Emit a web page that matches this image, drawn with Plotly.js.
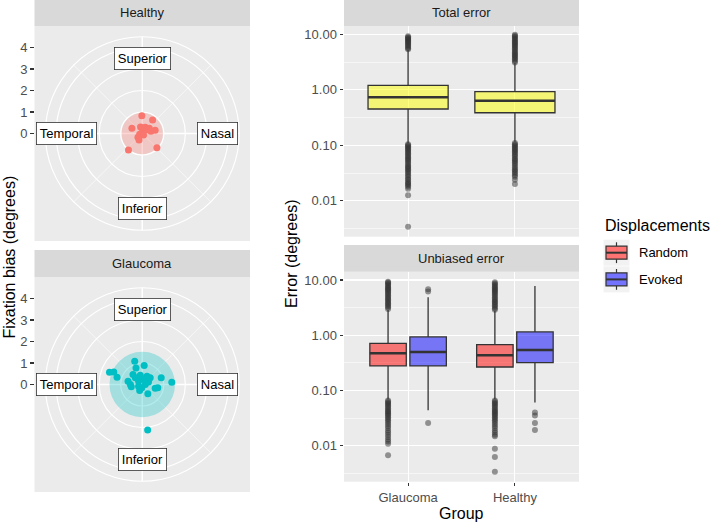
<!DOCTYPE html>
<html><head><meta charset="utf-8">
<script src="https://cdn.plot.ly/plotly-3.0.1.min.js"></script>
<style>html,body{margin:0;padding:0;background:#fff}#chart{width:720px;height:522px}</style>
</head><body><div id="chart"></div>
<script>
// ---------------- data ----------------
const groups = ['Glaucoma', 'Healthy'];

// Fixation bias (degrees): horizontal (Nasal +) and vertical (Superior +)
const healthyBiasX = [-0.02, 0.48, -0.48, -0.08, 0.14, 0.33, 0.60, 0.02, -0.12, -0.20, 0.06, 0.22, 0.40, -0.15, -0.64, 0.68];
const healthyBiasY = [0.83, 0.63, 0.24, 0.30, 0.29, 0.24, 0.15, 0.12, -0.04, -0.18, -0.07, 0.18, 0.10, -0.30, -0.77, -0.66];
const glaucomaBiasX = [-0.35, 0.09, -0.29, -1.52, -1.32, -1.17, -0.43, -0.09, 0.22, 0.37, 0.88, -0.66, -0.55, -0.17, 0.06, 0.29, -0.17, 0.14, -0.51, -0.12, 0.26, 0.60, 0.72, 1.37, 0.25, -0.02, -0.32];
const glaucomaBiasY = [1.08, 0.88, 0.77, 0.57, 0.58, 0.34, 0.46, 0.43, 0.38, 0.31, 0.31, 0.15, 0.00, 0.15, 0.23, 0.12, -0.08, 0.00, -0.11, -0.28, -0.43, -0.18, -0.15, 0.11, -2.12, -0.15, 0.31];
const healthyBiasRadius = 0.96;
const glaucomaBiasRadius = 1.52;

const directionLabels = ['Superior', 'Nasal', 'Inferior', 'Temporal'];
const directionAngles = [90, 0, 270, 180];
const directionRadius = 3.5;
const radialTicks = [0, 1, 2, 3, 4];

// Total error (degrees) box statistics, per group
const totalQ1 = [0.451, 0.386];
const totalMedian = [0.733, 0.637];
const totalQ3 = [1.20, 0.925];
const totalLower = [0.109, 0.116];
const totalUpper = [5.2, 3.0];
const totalOutGlaucoma = [5.4, 5.6, 5.9, 6.2, 6.5, 6.8, 7.1, 7.4, 7.7, 8.0, 8.3, 8.6, 8.9, 9.2,
  0.105, 0.100, 0.096, 0.092, 0.088, 0.084, 0.080, 0.076, 0.072, 0.068, 0.064, 0.061, 0.058, 0.055, 0.052, 0.049, 0.046, 0.043, 0.041, 0.039, 0.037, 0.035, 0.033, 0.031, 0.029, 0.027, 0.025, 0.024, 0.022, 0.021, 0.020, 0.019, 0.018, 0.0165, 0.0126, 0.0034];
const totalOutHealthy = [3.1, 3.3, 3.5, 3.7, 3.9, 4.1, 4.3, 4.5, 4.75, 5.0, 5.3, 5.6, 5.9, 6.2, 6.5, 6.8, 7.1, 7.4, 7.8, 8.2, 8.6, 9.0, 9.4, 9.8,
  0.110, 0.105, 0.100, 0.095, 0.090, 0.086, 0.082, 0.078, 0.074, 0.070, 0.066, 0.062, 0.058, 0.055, 0.052, 0.049, 0.046, 0.043, 0.040, 0.037, 0.035, 0.033, 0.031, 0.029, 0.027, 0.024, 0.020];

// Unbiased error (degrees), Random displacements
const randomQ1 = [0.279, 0.267];
const randomMedian = [0.473, 0.435];
const randomQ3 = [0.716, 0.678];
const randomLower = [0.0697, 0.0697];
const randomUpper = [2.87, 2.79];
const randomOutGlaucoma = [3.0, 3.2, 3.4, 3.6, 3.8, 4.0, 4.25, 4.5, 4.75, 5.0, 5.3, 5.6, 5.9, 6.2, 6.5, 6.8, 7.1, 7.4, 7.8, 8.2, 8.6, 9.0, 9.3,
  0.066, 0.063, 0.060, 0.057, 0.054, 0.051, 0.048, 0.045, 0.043, 0.041, 0.039, 0.037, 0.035, 0.033, 0.031, 0.029, 0.027, 0.025, 0.023, 0.021, 0.019, 0.0175, 0.016, 0.0145, 0.013, 0.012, 0.011, 0.0068];
const randomOutHealthy = [2.9, 3.1, 3.3, 3.5, 3.7, 3.9, 4.1, 4.35, 4.6, 4.9, 5.2, 5.5, 5.8, 6.1, 6.4, 6.7, 7.0, 7.4, 7.8, 8.2, 8.6, 9.1,
  0.066, 0.063, 0.060, 0.057, 0.054, 0.051, 0.048, 0.045, 0.043, 0.041, 0.039, 0.037, 0.035, 0.033, 0.031, 0.029, 0.027, 0.025, 0.023, 0.021, 0.019, 0.0175, 0.016, 0.015, 0.0089, 0.0063, 0.0034];

// Unbiased error (degrees), Evoked displacements
const evokedQ1 = [0.279, 0.32];
const evokedMedian = [0.50, 0.543];
const evokedQ3 = [0.933, 1.15];
const evokedLower = [0.044, 0.0607];
const evokedUpper = [4.86, 7.76];
const evokedOutGlaucoma = [6.8, 6.2, 0.026];
const evokedOutHealthy = [0.040, 0.0353, 0.026, 0.0195];

const yTickVals = [0.01, 0.1, 1, 10];
const yTickText = ['0.01', '0.10', '1.00', '10.00'];

// ---------------- styling ----------------
const FONT = 'Liberation Sans, Arial, Helvetica, sans-serif';
const PANEL = '#EBEBEB', STRIP = '#D9D9D9';
const fillTotal = 'rgba(255,255,0,0.5)';
const fillRandom = 'rgba(255,0,0,0.5)';
const fillEvoked = 'rgba(0,0,255,0.5)';
const healthyColor = '#F8766D', glaucomaColor = '#00BFC4';

const traces = [];

function statsBox(xa, ya, q1, med, q3, lo, hi, fill, extra) {
  return Object.assign({
    type: 'box', xaxis: xa, yaxis: ya, x: groups,
    q1: q1, median: med, q3: q3, lowerfence: lo, upperfence: hi,
    fillcolor: fill, line: {color: '#333333', width: 1.3}, whiskerwidth: 0,
    boxpoints: false, showlegend: false, hoverinfo: 'skip'
  }, extra);
}
function medianBox(xa, ya, med, extra) {
  return Object.assign({
    type: 'box', xaxis: xa, yaxis: ya, x: groups,
    q1: med, median: med, q3: med, lowerfence: med, upperfence: med,
    fillcolor: 'rgba(0,0,0,0)', line: {color: '#333333', width: 2.6}, whiskerwidth: 0,
    boxpoints: false, showlegend: false, hoverinfo: 'skip'
  }, extra);
}
function outlierBox(xa, ya, outG, outH, extra) {
  return Object.assign({
    type: 'box', xaxis: xa, yaxis: ya,
    x: outG.map(() => groups[0]).concat(outH.map(() => groups[1])),
    y: outG.concat(outH),
    boxpoints: 'all', jitter: 0, pointpos: 0,
    fillcolor: 'rgba(0,0,0,0)', line: {color: 'rgba(0,0,0,0)', width: 0}, whiskerwidth: 0,
    marker: {color: 'rgba(51,51,51,0.5)', size: 6, line: {width: 0}},
    showlegend: false, hoverinfo: 'skip'
  }, extra);
}

// Total error (top right)
traces.push(statsBox('x', 'y', totalQ1, totalMedian, totalQ3, totalLower, totalUpper, fillTotal, {width: 0.75}));
traces.push(medianBox('x', 'y', totalMedian, {width: 0.75}));
traces.push(outlierBox('x', 'y', totalOutGlaucoma, totalOutHealthy, {width: 0.75}));

// Unbiased error (bottom right)
const gR = {alignmentgroup: 'unb', offsetgroup: 'Random'};
const gE = {alignmentgroup: 'unb', offsetgroup: 'Evoked'};
traces.push(statsBox('x2', 'y2', randomQ1, randomMedian, randomQ3, randomLower, randomUpper, fillRandom, gR));
traces.push(statsBox('x2', 'y2', evokedQ1, evokedMedian, evokedQ3, evokedLower, evokedUpper, fillEvoked, gE));
traces.push(medianBox('x2', 'y2', randomMedian, gR));
traces.push(medianBox('x2', 'y2', evokedMedian, gE));
traces.push(outlierBox('x2', 'y2', randomOutGlaucoma, randomOutHealthy, gR));
traces.push(outlierBox('x2', 'y2', evokedOutGlaucoma, evokedOutHealthy, gE));

// Fixation bias points (left)
traces.push({type: 'scatter', mode: 'markers', xaxis: 'x3', yaxis: 'y3', x: healthyBiasX, y: healthyBiasY,
  marker: {color: healthyColor, size: 7}, showlegend: false, hoverinfo: 'skip'});
traces.push({type: 'scatter', mode: 'markers', xaxis: 'x4', yaxis: 'y4', x: glaucomaBiasX, y: glaucomaBiasY,
  marker: {color: glaucomaColor, size: 7}, showlegend: false, hoverinfo: 'skip'});

// ---------------- layout ----------------
const W = 720, H = 522;
const px = v => v / W, py = v => 1 - v / H;

const leftX = [px(34.5), px(250)];
const healthyY = [py(241), py(26)];
const glaucomaY = [py(492), py(277)];
const rightX = [px(344), px(579)];
const topY = [py(236.7), py(26)];
const botY = [py(481.7), py(271.7)];

const shapes = [];
const annotations = [];

// strips
function strip(x0, x1, yTop, yBot, label) {
  shapes.push({type: 'rect', xref: 'paper', yref: 'paper', x0: px(x0), x1: px(x1), y0: py(yBot), y1: py(yTop),
    fillcolor: STRIP, line: {width: 0}, layer: 'above'});
  annotations.push({xref: 'paper', yref: 'paper', x: px((x0 + x1) / 2), y: py((yTop + yBot) / 2),
    text: label, showarrow: false, xanchor: 'center', yanchor: 'middle',
    font: {family: FONT, size: 13, color: '#1A1A1A'}});
}
strip(34.5, 250, 0, 26, 'Healthy');
strip(34.5, 250, 250, 277, 'Glaucoma');
strip(344, 579, 0, 26, 'Total error');
strip(344, 579, 245, 271.7, 'Unbiased error');

// polar grid for the two left panels
function polarPanel(xa, ya, diskR, diskColor) {
  const outer = 4.5;
  [1, 2, 3, 4, outer].forEach(r => shapes.push({type: 'circle', xref: xa, yref: ya, x0: -r, x1: r, y0: -r, y1: r,
    line: {color: 'white', width: 1.2}, layer: 'below'}));
  [45, 135, 225, 315].forEach(a => shapes.push({type: 'line', xref: xa, yref: ya, x0: 0, y0: 0,
    x1: outer * Math.cos(a * Math.PI / 180), y1: outer * Math.sin(a * Math.PI / 180),
    line: {color: 'white', width: 0.6}, layer: 'below'}));
  [0, 90, 180, 270].forEach(a => shapes.push({type: 'line', xref: xa, yref: ya, x0: 0, y0: 0,
    x1: outer * Math.cos(a * Math.PI / 180), y1: outer * Math.sin(a * Math.PI / 180),
    line: {color: 'white', width: 1.5}, layer: 'below'}));
  shapes.push({type: 'circle', xref: xa, yref: ya, x0: -diskR, x1: diskR, y0: -diskR, y1: diskR,
    fillcolor: diskColor, line: {width: 0}, layer: 'below'});
  directionLabels.forEach((t, i) => {
    const a = directionAngles[i] * Math.PI / 180;
    annotations.push({xref: xa, yref: ya, x: directionRadius * Math.cos(a), y: directionRadius * Math.sin(a),
      text: t, showarrow: false, xanchor: 'center', yanchor: 'middle',
      bgcolor: 'white', bordercolor: '#333333', borderwidth: 0.8, borderpad: 3,
      font: {family: FONT, size: 13, color: '#000'}});
  });
}
polarPanel('x3', 'y3', healthyBiasRadius, 'rgba(248,118,109,0.3)');
polarPanel('x4', 'y4', glaucomaBiasRadius, 'rgba(0,191,196,0.3)');

// titles
annotations.push({xref: 'paper', yref: 'paper', x: px(461.5), y: py(513), text: 'Group', showarrow: false,
  xanchor: 'center', yanchor: 'middle', font: {family: FONT, size: 16, color: '#000'}});
annotations.push({xref: 'paper', yref: 'paper', x: px(291), y: py(254), text: 'Error (degrees)', showarrow: false,
  textangle: -90, xanchor: 'center', yanchor: 'middle', font: {family: FONT, size: 16, color: '#000'}});
annotations.push({xref: 'paper', yref: 'paper', x: px(9), y: py(257.5), text: 'Fixation bias (degrees)', showarrow: false,
  textangle: -90, xanchor: 'center', yanchor: 'middle', font: {family: FONT, size: 16, color: '#000'}});

// manual legend
annotations.push({xref: 'paper', yref: 'paper', x: px(603), y: py(225), text: 'Displacements', showarrow: false,
  xanchor: 'left', yanchor: 'middle', font: {family: FONT, size: 16, color: '#000'}});
[['Random', fillRandom, 252.7], ['Evoked', fillEvoked, 279.4]].forEach(([lab, fill, cy]) => {
  const cx = 616.5;
  shapes.push({type: 'rect', xref: 'paper', yref: 'paper', x0: px(603.5), x1: px(629.5), y0: py(cy + 13), y1: py(cy - 13),
    fillcolor: '#F2F2F2', line: {width: 0}});
  shapes.push({type: 'line', xref: 'paper', yref: 'paper', x0: px(cx), x1: px(cx), y0: py(cy + 10.4), y1: py(cy - 10.4),
    line: {color: '#333333', width: 1.2}});
  shapes.push({type: 'rect', xref: 'paper', yref: 'paper', x0: px(606), x1: px(627), y0: py(cy + 6.5), y1: py(cy - 6.5),
    fillcolor: 'white', line: {width: 0}});
  shapes.push({type: 'rect', xref: 'paper', yref: 'paper', x0: px(606), x1: px(627), y0: py(cy + 6.5), y1: py(cy - 6.5),
    fillcolor: fill.replace('0.5)', '0.55)'), line: {color: '#333333', width: 1.2}});
  shapes.push({type: 'line', xref: 'paper', yref: 'paper', x0: px(606), x1: px(627), y0: py(cy), y1: py(cy),
    line: {color: '#333333', width: 2}});
  annotations.push({xref: 'paper', yref: 'paper', x: px(637), y: py(cy), text: lab, showarrow: false,
    xanchor: 'left', yanchor: 'middle', font: {family: FONT, size: 13, color: '#000'}});
});

const tickFont = {family: FONT, size: 13, color: '#4D4D4D'};
const minorVals = [Math.pow(10, -2.5), Math.pow(10, -1.5), Math.pow(10, -0.5), Math.pow(10, 0.5)];
function logAxis(domain, anchor) {
  return {domain: domain, anchor: anchor, type: 'log', range: [-2.647, 1.15],
    tickmode: 'array', tickvals: yTickVals, ticktext: yTickText,
    ticks: 'outside', ticklen: 3.5, tickwidth: 1.1, tickcolor: '#333333', tickfont: tickFont,
    showgrid: true, gridcolor: 'white', gridwidth: 1.1, zeroline: false, showline: false,
    minor: {tickmode: 'array', tickvals: minorVals, showgrid: true, gridcolor: 'white', gridwidth: 0.55, ticks: ''}};
}
function catAxis(domain, anchor, showLabels) {
  return {domain: domain, anchor: anchor, type: 'category', categoryorder: 'array', categoryarray: groups,
    range: [-0.6, 1.6], showticklabels: showLabels, ticks: showLabels ? 'outside' : '',
    ticklen: 3.5, tickwidth: 1.1, tickcolor: '#333333', tickfont: tickFont,
    showgrid: true, gridcolor: 'white', gridwidth: 1.1, zeroline: false, showline: false};
}
function polarY(domain, anchor) {
  return {domain: domain, anchor: anchor, range: [-5, 5], tickmode: 'array', tickvals: radialTicks,
    ticks: 'outside', ticklen: 3.5, tickwidth: 1.1, tickcolor: '#333333', tickfont: tickFont,
    showgrid: false, zeroline: false, showline: false};
}
function polarX(domain, anchor) {
  return {domain: domain, anchor: anchor, range: [-5, 5], visible: false, showgrid: false, zeroline: false};
}

const layout = {
  width: W, height: H, autosize: false,
  margin: {l: 0, r: 0, t: 0, b: 0, pad: 0},
  paper_bgcolor: 'white', plot_bgcolor: PANEL,
  font: {family: FONT},
  showlegend: false,
  boxmode: 'group', boxgap: 0.25, boxgroupgap: 0.09,
  xaxis: catAxis(rightX, 'y', false),
  yaxis: logAxis(topY, 'x'),
  xaxis2: catAxis(rightX, 'y2', true),
  yaxis2: logAxis(botY, 'x2'),
  xaxis3: polarX(leftX, 'y3'),
  yaxis3: polarY(healthyY, 'x3'),
  xaxis4: polarX(leftX, 'y4'),
  yaxis4: polarY(glaucomaY, 'x4'),
  shapes: shapes,
  annotations: annotations
};

Plotly.newPlot('chart', traces, layout, {staticPlot: true, displayModeBar: false});
</script></body></html>
